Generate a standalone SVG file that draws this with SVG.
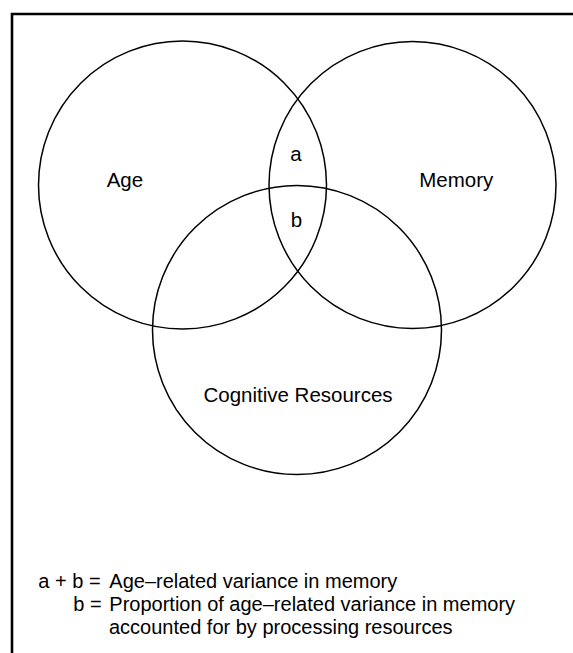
<svg xmlns="http://www.w3.org/2000/svg" width="573" height="653" viewBox="0 0 573 653">
<style>
.c{fill:none;stroke:#000;stroke-width:1.5}
.t{font-family:"Liberation Sans",Arial,sans-serif;font-size:20.5px;fill:#000}
.l{font-family:"Liberation Sans",Arial,sans-serif;font-size:20px;fill:#000}
</style>
<rect width="573" height="653" fill="#fff"/>
<g id="frame"><path d="M12 653 V14 H573" fill="none" stroke="#000" stroke-width="2.6"/></g>
<g id="age"><circle class="c" cx="182.5" cy="185" r="144"/><text class="t" x="106.7" y="187">Age</text></g>
<g id="memory"><circle class="c" cx="412.5" cy="185" r="143.5"/><text class="t" x="419.3" y="187">Memory</text></g>
<g id="cognitive"><circle class="c" cx="297" cy="330" r="144.5"/><text class="t" x="298" y="402" text-anchor="middle">Cognitive Resources</text></g>
<g id="region-a"><text class="t" x="296" y="161" text-anchor="middle">a</text></g>
<g id="region-b"><text class="t" x="296.5" y="227" text-anchor="middle">b</text></g>
<g id="legend">
<text class="l" x="38.3" y="587.5">a + b =</text><text class="l" x="109.3" y="587.5">Age–related variance in memory</text>
<text class="l" x="73.3" y="610.8">b =</text><text class="l" x="109.3" y="610.8">Proportion of age–related variance in memory</text>
<text class="l" x="109" y="634">accounted for by processing resources</text>
</g>
<g id="connectors"></g>
</svg>
